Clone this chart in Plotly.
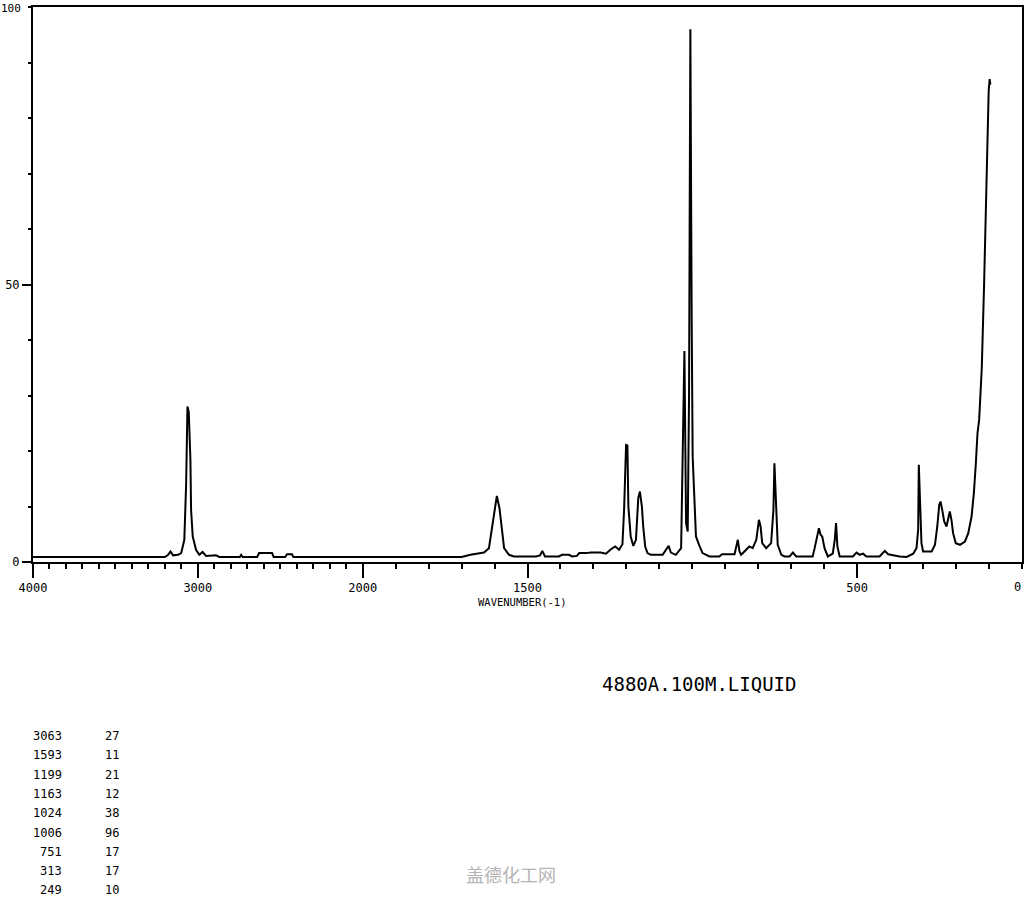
import numpy as np
import plotly.graph_objects as go

# ---------------- data ----------------
wavenumber = [
    4000, 3300, 3200, 3180, 3166, 3150, 3120, 3101, 3082, 3071, 3063, 3055, 3045, 3041,
    3031, 3011, 2991, 2971, 2950, 2890, 2870, 2745, 2737, 2728, 2640, 2628, 2550, 2540,
    2470, 2459, 2429, 2420, 1700, 1673, 1642, 1632, 1617, 1607, 1600, 1593, 1585, 1578,
    1571, 1556, 1541, 1474, 1462, 1455, 1447, 1405, 1395, 1374, 1365, 1350, 1343, 1322,
    1308, 1278, 1262, 1247, 1234, 1222, 1212, 1207, 1201, 1197, 1194, 1187, 1179, 1171,
    1164, 1159, 1153, 1149, 1143, 1136, 1126, 1090, 1080, 1072, 1065, 1050, 1034, 1029,
    1024, 1019, 1014, 1010, 1006, 1002, 999, 994, 989, 979, 969, 958, 948, 918, 910,
    872, 867, 862, 857, 852, 842, 827, 817, 806, 798, 793, 788, 776, 761, 754, 751, 746,
    741, 730, 720, 705, 695, 685, 635, 629, 622, 616, 611, 606, 599, 589, 574, 568, 564,
    560, 553, 513, 502, 492, 482, 472, 432, 416, 406, 371, 350, 330, 320, 315, 313, 308,
    305, 300, 274, 264, 257, 251, 247, 242, 236, 229, 224, 219, 214, 209, 201, 188, 173,
    163, 153, 146, 140, 135, 130, 122, 115, 110, 105, 101, 98, 96,
]
intensity = [
    0.9, 0.9, 0.9, 1.3, 1.9, 1.2, 1.3, 1.6, 4.0, 14.0, 28.0, 27.0, 18.4, 9.4,
    4.6, 2.2, 1.3, 1.8, 1.1, 1.2, 0.9, 0.9, 1.3, 0.9, 0.9, 1.6, 1.6, 0.9,
    0.9, 1.4, 1.4, 0.9, 0.9, 1.3, 1.6, 1.7, 2.5, 6.4, 9.7, 11.9, 9.7, 5.8,
    2.5, 1.3, 1.0, 1.0, 1.2, 2.0, 1.0, 1.0, 1.3, 1.3, 1.0, 1.1, 1.6, 1.6,
    1.7, 1.7, 1.5, 2.3, 2.8, 2.2, 3.2, 9.4, 21.1, 21.0, 10.0, 4.6, 2.9, 4.0,
    11.5, 12.7, 10.0, 6.4, 2.8, 1.6, 1.3, 1.3, 2.2, 2.9, 1.7, 1.3, 2.5, 19.0,
    38.0, 7.0, 5.5, 30.0, 96.0, 44.0, 19.0, 11.8, 4.6, 3.0, 1.6, 1.3, 1.0, 1.0, 1.4,
    1.4, 2.5, 4.0, 1.9, 1.3, 1.9, 2.8, 2.5, 4.0, 7.6, 6.4, 3.4, 2.5, 3.4, 9.4, 17.8, 8.8,
    3.1, 1.3, 1.0, 1.0, 1.7, 1.0, 1.0, 2.5, 4.3, 6.1, 4.9, 4.6, 2.5, 1.0, 1.5, 4.0, 7.0,
    2.8, 1.0, 1.0, 1.7, 1.3, 1.5, 1.0, 1.0, 2.0, 1.4, 1.0, 0.9, 1.5, 2.5, 5.8, 17.5, 10.6,
    3.4, 1.9, 1.9, 3.1, 6.4, 10.3, 10.9, 9.4, 7.3, 6.4, 7.9, 9.1, 7.6, 5.2, 3.4, 3.1, 3.7,
    5.2, 8.2, 12.4, 17.8, 23.2, 25.6, 35.0, 50.0, 63.0, 76.0, 85.0, 87.0, 86.0,
]

x_major_vals = [4000, 3000, 2000, 1500, 500, 0]
x_major_text = ["4000", "3000", "2000", "1500", "500", ""]
x_end_label = "0"
y_major_vals = [0, 50, 100]
y_major_text = ["0", "50", ""]
y_top_label = "100"

peak_wn = ["3063", "1593", "1199", "1163", "1024", "1006", "751", "313", "249"]
peak_int = ["27", "11", "21", "12", "38", "96", "17", "17", "10"]

sample_label = "4880A.100M.LIQUID"
axis_label = "WAVENUMBER(-1)"
watermark = "盖德化工网"

# ---------------- axis scale (change of scale at 2000 cm-1) ----------------
def to_axis(w):
    w = np.asarray(w, dtype=float)
    return np.where(w > 2000, 2000 + (w - 2000) / 2.0, w)

W, H = 1024, 900
L, R, T, B = 33, 2, 7, 338
pw, ph = W - L - R, H - T - B


def pxx(px):
    return (px - L) / pw


def pxy(py):
    return (H - B - py) / ph


mono = "DejaVu Sans Mono"

fig = go.Figure()
fig.add_trace(go.Scatter(
    x=to_axis(wavenumber), y=intensity, mode="lines",
    line=dict(color="black", width=2), hoverinfo="skip", showlegend=False,
))

minor_x = to_axis(np.arange(0, 4001, 100)).tolist()

fig.update_layout(
    width=W, height=H,
    margin=dict(l=L, r=R, t=T, b=B, autoexpand=False),
    paper_bgcolor="white", plot_bgcolor="white",
    xaxis=dict(
        range=[3000, 0], showgrid=False, zeroline=False, automargin=False,
        showline=True, linecolor="black", linewidth=2, mirror=True,
        ticks="outside", ticklen=14, tickwidth=2, tickcolor="black",
        tickmode="array", tickvals=to_axis(x_major_vals).tolist(), ticktext=x_major_text,
        tickfont=dict(family=mono, size=12, color="black"),
        minor=dict(tickmode="array", tickvals=minor_x, ticks="outside",
                   ticklen=5, tickwidth=1.5, tickcolor="black", showgrid=False),
    ),
    yaxis=dict(
        range=[0, 100], showgrid=False, zeroline=False, automargin=False,
        showline=True, linecolor="black", linewidth=2, mirror=True,
        ticks="outside", ticklen=9, tickwidth=2, tickcolor="black",
        tickmode="array", tickvals=y_major_vals, ticktext=y_major_text,
        tickfont=dict(family=mono, size=12, color="black"),
        minor=dict(tickmode="array", tickvals=list(range(0, 101, 10)), ticks="outside",
                   ticklen=3, tickwidth=1.5, tickcolor="black", showgrid=False),
    ),
)

ann = []
ann.append(dict(x=pxx(22), y=pxy(1), xref="paper", yref="paper", text=y_top_label,
                showarrow=False, font=dict(family=mono, size=11, color="black"),
                xanchor="right", yanchor="top", borderpad=0))
ann.append(dict(x=pxx(1023), y=pxy(587), xref="paper", yref="paper", text=x_end_label,
                showarrow=False, font=dict(family=mono, size=12, color="black"),
                xanchor="right", yanchor="middle"))
ann.append(dict(x=pxx(522), y=pxy(602), xref="paper", yref="paper", text=axis_label,
                showarrow=False, font=dict(family=mono, size=10.5, color="black"),
                xanchor="center", yanchor="middle"))
ann.append(dict(x=pxx(699), y=pxy(684), xref="paper", yref="paper", text=sample_label,
                showarrow=False, font=dict(family=mono, size=19, color="black"),
                xanchor="center", yanchor="middle"))
for i, (a, b) in enumerate(zip(peak_wn, peak_int)):
    yy = 736 + i * 19.3
    ann.append(dict(x=pxx(64), y=pxy(yy), xref="paper", yref="paper", text=a,
                    showarrow=False, font=dict(family=mono, size=12, color="black"),
                    xanchor="right", yanchor="middle"))
    ann.append(dict(x=pxx(121), y=pxy(yy), xref="paper", yref="paper", text=b,
                    showarrow=False, font=dict(family=mono, size=12, color="black"),
                    xanchor="right", yanchor="middle"))
ann.append(dict(x=pxx(511), y=pxy(874), xref="paper", yref="paper", text=watermark,
                showarrow=False, font=dict(family="Noto Sans CJK SC", size=18, color="#b4b4b4"),
                xanchor="center", yanchor="middle"))
fig.update_layout(annotations=ann)

fig.write_html("out.html", config={"displayModeBar": False},
               post_script="document.body.style.margin='0';")
